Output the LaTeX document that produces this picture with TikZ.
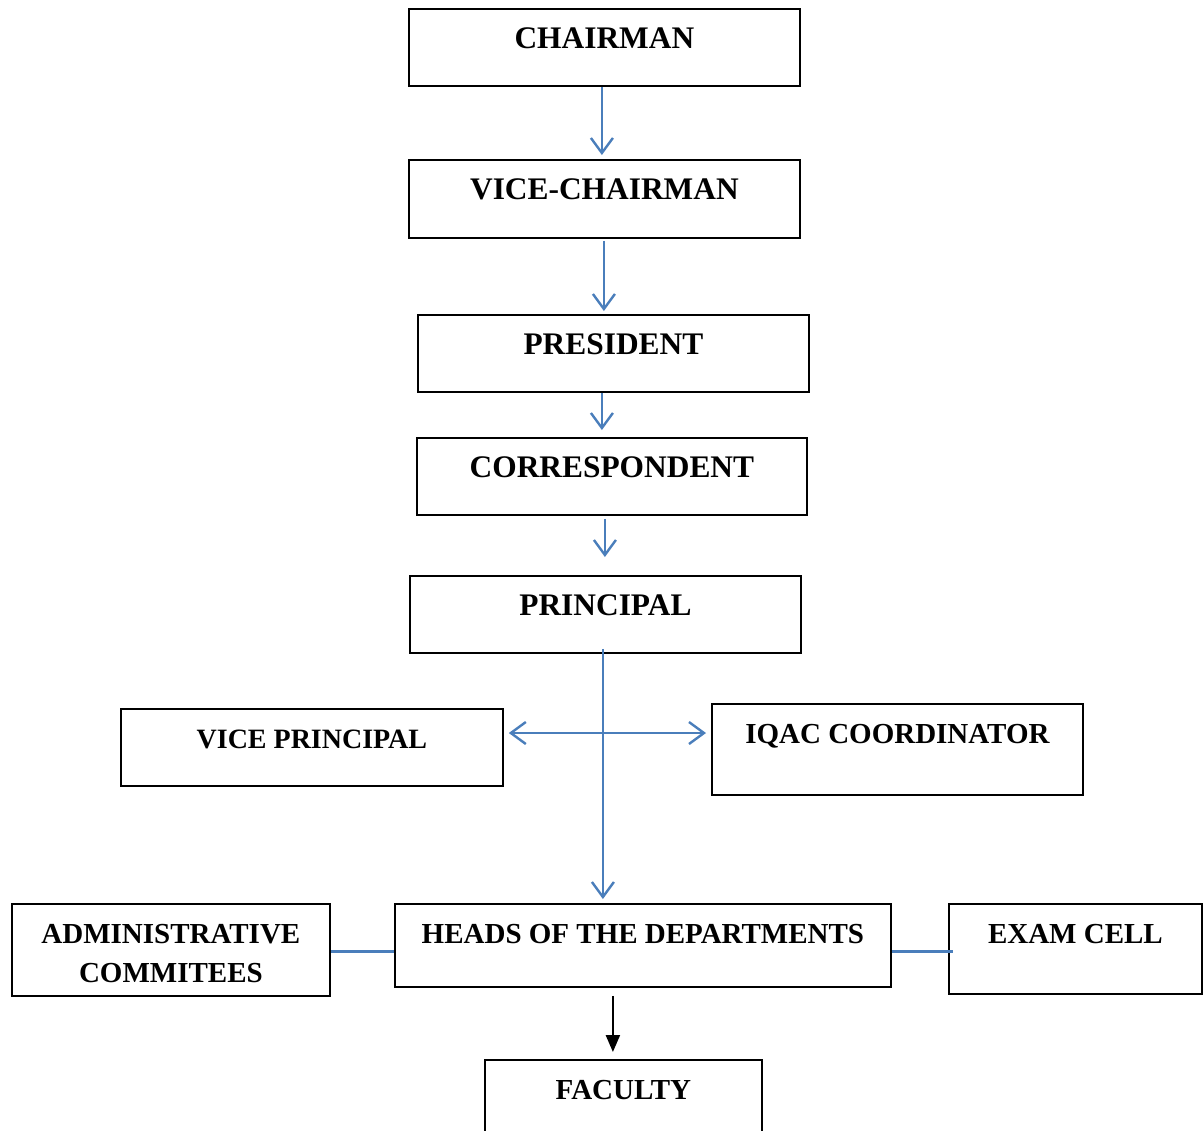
\documentclass[tikz,border=0pt]{standalone}
\usepackage{fontspec}
\setmainfont{Liberation Serif}
\usetikzlibrary{arrows.meta}
\definecolor{lineblue}{HTML}{4A7EBB}
\begin{document}
\begin{tikzpicture}[x=1pt,y=-1pt,
 box/.style={draw=black,line width=1.8pt,anchor=north west,inner xsep=0pt,inner ysep=0pt,text height=40pt,align=center,font=\bfseries\fontsize{29}{39}\selectfont},
 big/.style={font=\bfseries\fontsize{31.4}{39}\selectfont},
 conn/.style={draw=lineblue,line width=2.4pt},
 barb/.style={conn,-{Straight Barb[length=15pt,width=22pt]}},
 barbs/.style={conn,{Straight Barb[length=15pt,width=22pt]}-{Straight Barb[length=15pt,width=22pt]}},
 blk/.style={draw=black,line width=2.2pt,-{Triangle[length=17pt,width=14pt]}}]
\useasboundingbox (0,0) rectangle (1204,1130);
\clip (0,0) rectangle (1204,1130);
\fill[white] (0,0) rectangle (1204,1130);

\node[box,big,minimum width=391pt,text depth=37pt] (chair) at (408,8) {CHAIRMAN};
\node[box,big,minimum width=391pt,text depth=38pt] (vice) at (408,159) {VICE-CHAIRMAN};
\node[box,big,minimum width=391pt,text depth=37pt] (pres) at (417,314) {PRESIDENT};
\node[box,big,minimum width=390pt,text depth=37pt] (corr) at (416,437) {CORRESPONDENT};
\node[box,big,minimum width=391pt,text depth=37pt] (prin) at (409,575) {PRINCIPAL};
\node[box,font=\bfseries\fontsize{28}{39}\selectfont,minimum width=382pt,text depth=37pt] (vp) at (120,708) {VICE PRINCIPAL};
\node[box,minimum width=371pt,text depth=51pt] (iqac) at (711,703) {IQAC COORDINATOR};
\node[box,minimum width=318pt,text height=79pt,text depth=13pt] (adm) at (11,903) {ADMINISTRATIVE\\COMMITEES};
\node[box,minimum width=496pt,text depth=43pt] (hod) at (394,903) {HEADS OF THE DEPARTMENTS};
\node[box,minimum width=253pt,text depth=50pt] (exam) at (948,903) {EXAM CELL};
\node[box,minimum width=277pt,text depth=60pt] (fac) at (484,1059) {FACULTY};

\draw[barb,shorten >=4pt] ([xshift=-2.5pt]chair.south) -- ([xshift=-2.5pt]vice.north);
\draw[barb,shorten <=2pt,shorten >=3pt] ([xshift=-0.5pt]vice.south) -- ([xshift=-9.5pt]pres.north);
\draw[barb,shorten >=7pt] ([xshift=-11.5pt]pres.south) -- ([xshift=-10pt]corr.north);
\draw[barb,shorten <=3pt,shorten >=18pt] ([xshift=-7pt]corr.south) -- ([xshift=-0.5pt]prin.north);
\draw[barb,shorten >=4pt] ([xshift=-2.5pt,yshift=5pt]prin.south) -- ([xshift=-40pt]hod.north);
\coordinate (cross) at (602,733);
\draw[barbs,shorten <=5pt,shorten >=5pt] (cross -| vp.east) -- (cross -| iqac.west);
\coordinate (hl) at ([yshift=-6pt]hod.west);
\coordinate (hr) at ([yshift=-6pt]hod.east);
\draw[conn] (hl) -- (hl -| adm.east);
\draw[conn,shorten >=-5pt] (hr) -- (hr -| exam.west);
\draw[blk,shorten <=8pt,shorten >=7pt] ([xshift=-30pt]hod.south) -- ([xshift=-10.5pt]fac.north);
\end{tikzpicture}
\end{document}
